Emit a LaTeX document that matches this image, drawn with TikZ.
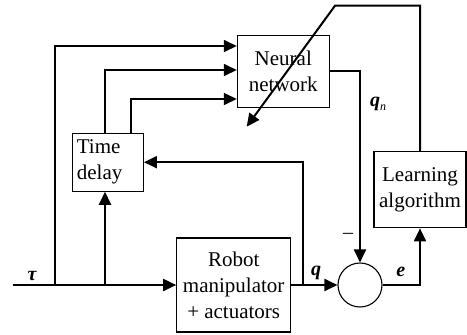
\documentclass[tikz,border=0pt]{standalone}
\usepackage{fontspec}
\setmainfont{Liberation Serif}
\usetikzlibrary{arrows.meta}
\begin{document}
\begin{tikzpicture}[x=1pt,y=-1pt,
  blk/.style={draw,line width=1.1pt,inner sep=0pt,align=center,
              font=\fontsize{21}{26}\selectfont},
  sig/.style={line width=2pt,line join=miter,-{Triangle[length=13pt,width=12pt]}},
  lbl/.style={inner sep=0pt,font=\fontsize{20}{20}\selectfont\bfseries\itshape}]
\useasboundingbox (0,0) rectangle (467,335);

% blocks
\node[blk,minimum width=92pt,minimum height=72pt] (nn) at (283.3,71.2) {Neural\\network};
\node[blk,minimum width=71pt,minimum height=58pt,align=left,text width=62pt] (td) at (107.9,162.2) {Time\\delay};
\node[blk,minimum width=114pt,minimum height=94pt] (rob) at (233.7,285) {Robot\\manipulator\\+ actuators};
\node[blk,minimum width=92pt,minimum height=76pt] (learn) at (420,189.8) {Learning\\algorithm};
\node[draw,circle,line width=1.1pt,minimum size=44pt,inner sep=0pt] (sum) at (360,285) {};

% helper levels and branch points
\coordinate (in) at (12.7,285);
\coordinate (b1) at (55,285);
\coordinate (b2) at (105,285);
\coordinate (c3) at (130.7,0);
\coordinate (y1) at (0,46);
\coordinate (y2) at (0,70);
\coordinate (y3) at (0,99);
\coordinate (qb) at (303.3,285);
\coordinate (k) at (335,5.7);
\coordinate (tipd) at (246.7,126.7);

% torque input and its branches
\draw[sig] (in) -- (rob.west);
\draw[sig] (b1) |- (nn.west |- y1);
\draw[sig] (b2) -- (b2 |- td.south);

% delayed signals into the network
\draw[sig] (td.north -| b2) |- (nn.west |- y2);
\draw[sig] (td.north -| c3) |- (nn.west |- y3);

% joint position output
\draw[sig] (rob.east) -- (sum.west);
\draw[sig] (qb) |- (td.east);

% network output and error
\draw[sig] (nn.east) -| (sum.north);
\draw[sig] (sum.east) -| (learn.south);

% weight adaptation
\draw[sig] (learn.north) |- (k) -- (tipd);

% labels
\node[lbl] (tau) at (32,276) {τ};
\node[lbl] (ql) at (316,273) {q};
\node[lbl] (el) at (400.7,272) {e};
\node[lbl,anchor=base west] (qn) at (370,106) {q\raisebox{-4pt}{\fontsize{12}{12}\selectfont\mdseries\itshape n}};
\node[inner sep=0pt,font=\fontsize{20}{20}\selectfont] (minus) at (348,236) {–};
\end{tikzpicture}
\end{document}
